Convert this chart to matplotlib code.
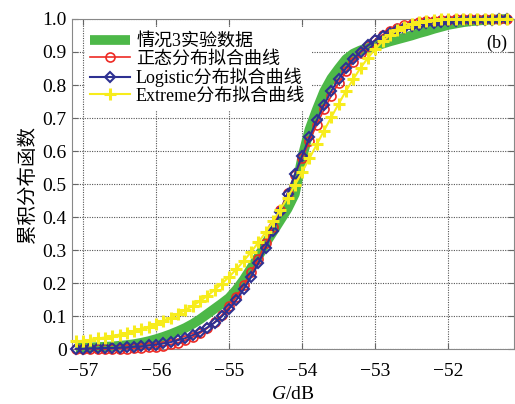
import matplotlib
matplotlib.use("Agg")
import matplotlib.pyplot as plt
import numpy as np

plt.rcParams['font.family'] = ['Liberation Serif', 'Noto Sans CJK SC']
plt.rcParams['mathtext.fontset'] = 'custom'
plt.rcParams['mathtext.it'] = 'Liberation Serif:italic'
plt.rcParams['mathtext.rm'] = 'Liberation Serif'

# G/dB 采样点
g_db = np.round(np.arange(-57.1, -51.15, 0.1), 2)

cdf_exp = [0.003, 0.004, 0.005, 0.006, 0.007, 0.008, 0.010, 0.012, 0.015, 0.019,
           0.024, 0.030, 0.037, 0.045, 0.054, 0.064, 0.076, 0.090, 0.106, 0.122,
           0.138, 0.155, 0.180, 0.210, 0.245, 0.280, 0.320, 0.355, 0.390, 0.425,
           0.470, 0.580, 0.665, 0.725, 0.780, 0.820, 0.850, 0.878, 0.895, 0.905,
           0.912, 0.918, 0.925, 0.932, 0.938, 0.944, 0.950, 0.957, 0.963, 0.970,
           0.976, 0.982, 0.986, 0.990, 0.993, 0.995, 0.997, 0.998, 0.999, 1.000]

# 正态分布拟合
cdf_norm = [0.000, 0.000, 0.000, 0.000, 0.000, 0.001, 0.001, 0.001, 0.002, 0.003,
            0.005, 0.007, 0.010, 0.014, 0.019, 0.027, 0.036, 0.048, 0.063, 0.081,
            0.103, 0.129, 0.159, 0.193, 0.232, 0.274, 0.320, 0.370, 0.421, 0.473,
            0.527, 0.579, 0.630, 0.680, 0.726, 0.768, 0.807, 0.841, 0.871, 0.897,
            0.919, 0.937, 0.952, 0.964, 0.973, 0.981, 0.986, 0.990, 0.993, 0.995,
            0.997, 0.998, 0.999, 0.999, 1.000, 1.000, 1.000, 1.000, 1.000, 1.000]

# Logistic分布拟合
cdf_logi = [0.001, 0.001, 0.002, 0.002, 0.003, 0.003, 0.004, 0.005, 0.007, 0.008,
            0.011, 0.013, 0.017, 0.021, 0.027, 0.033, 0.042, 0.052, 0.065, 0.080,
            0.099, 0.122, 0.149, 0.181, 0.218, 0.260, 0.307, 0.359, 0.414, 0.471,
            0.529, 0.586, 0.641, 0.693, 0.740, 0.782, 0.819, 0.851, 0.878, 0.901,
            0.920, 0.935, 0.948, 0.959, 0.967, 0.973, 0.979, 0.983, 0.987, 0.989,
            0.992, 0.993, 0.995, 0.996, 0.997, 0.997, 0.998, 0.998, 0.999, 0.999]

# Extreme分布拟合
cdf_ext = [0.023, 0.025, 0.028, 0.032, 0.035, 0.039, 0.044, 0.049, 0.055, 0.061,
           0.068, 0.076, 0.085, 0.095, 0.106, 0.118, 0.131, 0.145, 0.161, 0.179,
           0.198, 0.219, 0.242, 0.267, 0.294, 0.323, 0.354, 0.387, 0.422, 0.459,
           0.497, 0.537, 0.578, 0.620, 0.662, 0.703, 0.743, 0.782, 0.818, 0.852,
           0.882, 0.909, 0.932, 0.951, 0.966, 0.977, 0.986, 0.991, 0.995, 0.997,
           0.999, 0.999, 1.000, 1.000, 1.000, 1.000, 1.000, 1.000, 1.000, 1.000]

labels = ['情况3实验数据', '正态分布拟合曲线', 'Logistic分布拟合曲线', 'Extreme分布拟合曲线']
xticks = [-57, -56, -55, -54, -53, -52]
yticks = [0, 0.1, 0.2, 0.3, 0.4, 0.5, 0.6, 0.7, 0.8, 0.9, 1.0]
ytick_labels = ['0', '0.1', '0.2', '0.3', '0.4', '0.5', '0.6', '0.7', '0.8', '0.9', '1.0']

fig = plt.figure(figsize=(5.15, 4.04), dpi=100)
ax = fig.add_axes([0.140, 0.136, 0.858, 0.817])

ax.plot(g_db, cdf_exp, color='#4db848', lw=7, solid_capstyle='butt',
        label=labels[0], zorder=2, clip_on=False)
ax.plot(g_db, cdf_norm, color='#ee2a24', lw=1.2, marker='o', ms=6.5,
        mfc='none', mew=1.2, label=labels[1], zorder=3, clip_on=False)
ax.plot(g_db, cdf_logi, color='#2e3192', lw=1.5, marker='D', ms=5.5,
        mfc='none', mew=1.5, label=labels[2], zorder=4, clip_on=False)
ax.plot(g_db, cdf_ext, color='#f7ec1c', lw=1.5, marker='+', ms=9,
        mew=2.2, label=labels[3], zorder=5, clip_on=False)

ax.set_xlim(-57.15, -51.1)
ax.set_ylim(0, 1.0)
ax.set_xticks(xticks)
ax.set_xticklabels(['\u2212%d' % abs(v) for v in xticks])
ax.set_yticks(yticks)
ax.set_yticklabels(ytick_labels)
ax.tick_params(direction='in', top=True, right=True, length=4,
               labelsize=14, color='#666666')
ax.tick_params(axis='x', pad=10)
ax.tick_params(axis='y', pad=4)
ax.grid(True, color='#555555', linestyle=(0, (1, 1.2)), linewidth=0.8)
for sp in ax.spines.values():
    sp.set_color('#888888')

ax.set_xlabel('$G$/dB', fontsize=14, labelpad=4)
ax.set_ylabel('累积分布函数', fontsize=14, labelpad=4)
ax.text(0.96, 0.925, '(b)', transform=ax.transAxes, fontsize=13,
        ha='center', va='center', zorder=6)

leg = ax.legend(loc='upper left', bbox_to_anchor=(0.02, 0.985), frameon=True,
                fontsize=13, handlelength=2.2, labelspacing=0.02,
                handletextpad=0.35, borderpad=0.3, borderaxespad=0.2)
leg.get_frame().set_edgecolor('none')
leg.get_frame().set_facecolor('white')
leg.get_frame().set_alpha(1.0)
leg.set_zorder(7)

fig.savefig('out.png', dpi=100)
